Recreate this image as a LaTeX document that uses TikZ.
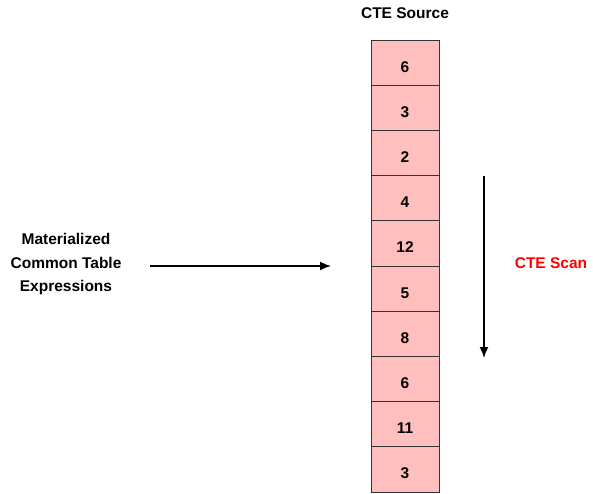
\documentclass[tikz,border=0pt]{standalone}
\usepackage{fontspec}
\setmainfont{Liberation Sans}
\usetikzlibrary{arrows.meta}
\definecolor{celda}{RGB}{255,191,191}
\begin{document}
\begin{tikzpicture}[x=1pt,y=-1pt,>={Latex[length=11pt,width=9pt]},
    etiqueta/.style={font=\bfseries\fontsize{15.5}{23.5}\selectfont, align=center, inner sep=0pt},
    casilla/.style={draw=black!80, line width=0.8pt, fill=celda, minimum width=68pt, minimum height=45.2pt, inner sep=0pt, text height=19pt, text depth=0pt, font=\bfseries\fontsize{15.5}{18}\selectfont},
    flecha/.style={->, line width=1.6pt}]

  \useasboundingbox (0,0) rectangle (593,493);

  % Titulo
  \node[etiqueta] (fuente) at (405,13) {CTE Source};

  % Columna de valores
  \foreach \v [count=\i] in {6,3,2,4,12,5,8,6,11,3}
    \node[casilla] (c\i) at (405,{40+45.2*(\i-0.5)}) {\v};

  % Texto de la izquierda
  \node[etiqueta] (cte) at (66,264) {Materialized\\Common Table\\Expressions};

  % Flecha horizontal
  \coordinate (hIni) at (150,266);
  \coordinate (hFin) at (331,266);
  \draw[flecha] (hIni) -- (hFin);

  % Flecha del recorrido
  \coordinate (vIni) at (484,176);
  \coordinate (vFin) at (484,358);
  \draw[flecha] (vIni) -- (vFin);

  % Etiqueta del recorrido
  \node[etiqueta, text=red] (scan) at (551,263) {CTE Scan};

\end{tikzpicture}
\end{document}
